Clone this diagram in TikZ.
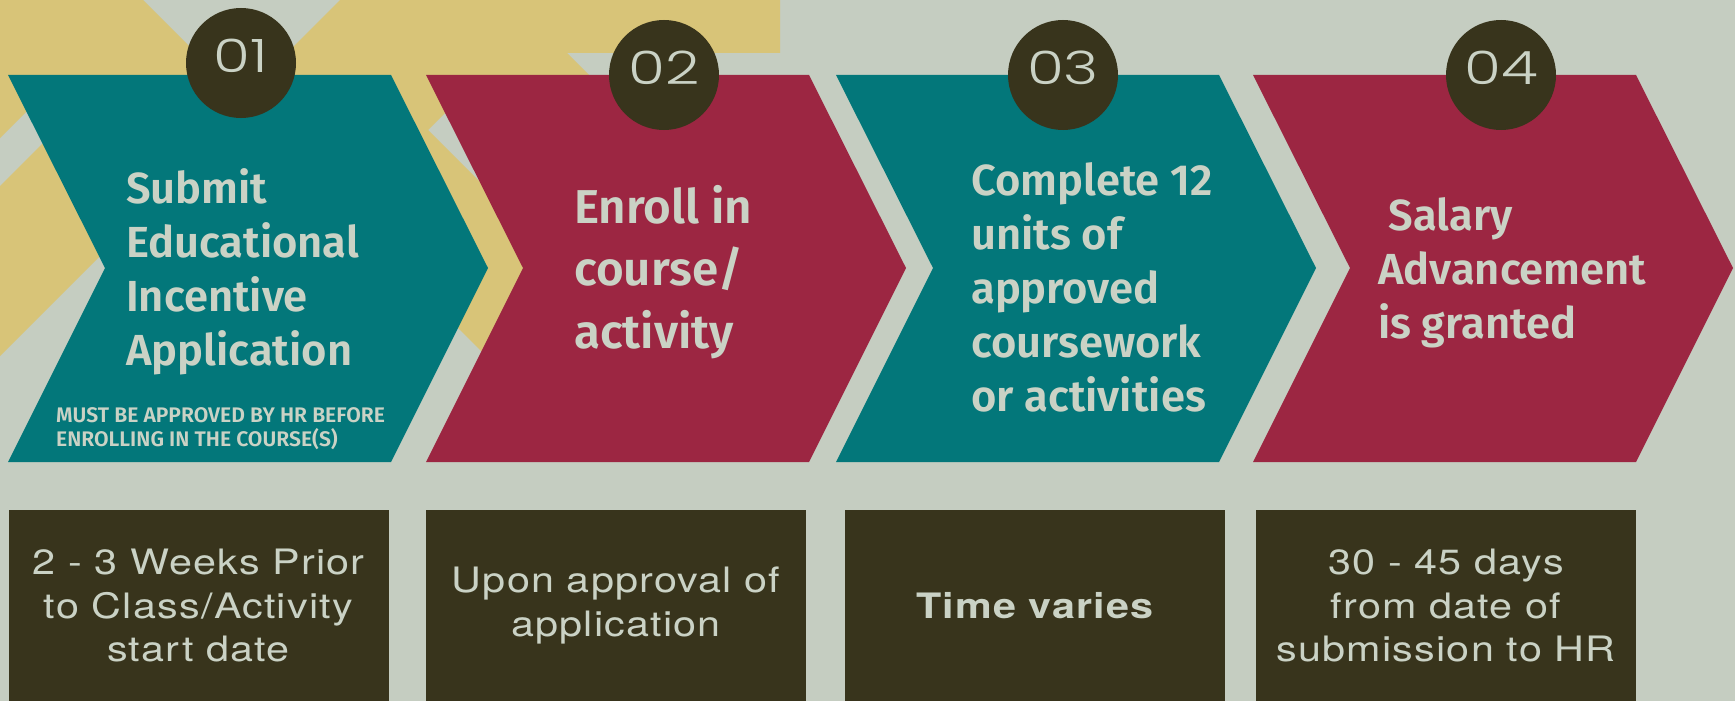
\documentclass[tikz,border=0pt]{standalone}
\usepackage{fontspec}
\setmainfont{TeX Gyre Heros}
\newfontfamily\stepfont{Fira Sans SemiBold}
\newfontfamily\numfont{Poppins}[UprightFont={* Light}, FakeStretch=1.3]
\newfontfamily\timefont{TeX Gyre Heros}[FakeStretch=1.18, LetterSpace=3.5]
\definecolor{stepbg}{HTML}{C5CDC1}
\definecolor{stepsand}{HTML}{D8C478}
\definecolor{stepteal}{HTML}{03777A}
\definecolor{stepred}{HTML}{9C2642}
\definecolor{stepdark}{HTML}{38341C}
\definecolor{steplight}{HTML}{CAD2C5}
\tikzset{sandpatch/.style={fill=stepsand},
         numdot/.style={circle, fill=stepdark, minimum size=110pt, inner sep=0pt, text=steplight,
                        text depth=14pt, font=\numfont\fontsize{46}{46}\selectfont},
         steptext/.style={anchor=base west, inner sep=0pt, text=steplight, font=\stepfont\fontsize{43.5}{54}\selectfont},
         bigtext/.style={steptext, font=\stepfont\fontsize{47.5}{62.5}\selectfont},
         notetext/.style={steptext, font=\stepfont\fontsize{21.1}{20}\selectfont},
         timebox/.style={fill=stepdark, text=steplight, align=center, minimum width=380pt, minimum height=191pt,
                         inner sep=0pt, font=\timefont\fontsize{35}{43.5}\selectfont}}

\begin{document}
\begin{tikzpicture}[x=1pt,y=-1pt]
   \useasboundingbox (0,0) rectangle (1735,701);
   \fill[stepbg] (0,0) rectangle (1735,701);
   \fill[sandpatch] (0,0) -- (143,0) -- (241.5,98.5) -- (340,0) -- (780,0) -- (780,53) -- (567,53) -- (600,86) --
                    (472,86) -- (428,130) -- (560,262) -- (560,430) -- (400,270) -- (200,156) -- (0,356) --
                    (0,186) -- (60,126) -- (50,88) -- (0,138) -- cycle;
   \begin{scope}[xshift=8pt]
    \fill[stepteal] (0,75) -- (383,75) -- (480,268) -- (383,462) -- (0,462) -- (97,268) -- cycle;
   \end{scope}
   \begin{scope}[xshift=426pt]
    \fill[stepred]  (0,75) -- (383,75) -- (480,268) -- (383,462) -- (0,462) -- (97,268) -- cycle;
   \end{scope}
   \begin{scope}[xshift=836pt]
    \fill[stepteal] (0,75) -- (383,75) -- (480,268) -- (383,462) -- (0,462) -- (97,268) -- cycle;
   \end{scope}
   \begin{scope}[xshift=1253pt]
    \fill[stepred]  (0,75) -- (383,75) -- (480,268) -- (383,462) -- (0,462) -- (97,268) -- cycle;
   \end{scope}
   \node[numdot] (n1) at ( 241, 63) {01};
   \node[numdot] (n2) at ( 664, 75) {02};
   \node[numdot] (n3) at (1063, 75) {03};
   \node[numdot] (n4) at (1501, 75) {04};
   \node[steptext] (s1) at ( 126,203) {\begin{tabular}[t]{@{}l@{}}Submit\\Educational\\Incentive\\Application\end{tabular}};
   \node[notetext] (m1) at (  56,422) {\begin{tabular}[t]{@{}l@{}}MUST BE APPROVED BY HR BEFORE\\ENROLLING IN THE COURSE(S)\end{tabular}};
   \node[bigtext]  (s2) at ( 574,223) {\begin{tabular}[t]{@{}l@{}}Enroll in\\course/\\activity\end{tabular}};
   \node[steptext] (s3) at ( 971,195) {\begin{tabular}[t]{@{}l@{}}Complete 12\\units of\\approved\\coursework\\or activities\end{tabular}};
   \node[steptext] (s4) at (1378,230) {\begin{tabular}[t]{@{}l@{}}~Salary\\Advancement\\is granted\end{tabular}};
   \node[timebox] (t1) at ( 198.5,605.5) {2 - 3 Weeks Prior\\to Class/Activity\\start date};
   \node[timebox] (t2) at ( 616  ,605.5) {Upon approval of\\application};
   \node[timebox] (t3) at (1035  ,605.5) {\bfseries Time varies};
   \node[timebox] (t4) at (1446  ,605.5) {30 - 45 days\\from date of\\submission to HR};
  \end{tikzpicture}
\end{document}
